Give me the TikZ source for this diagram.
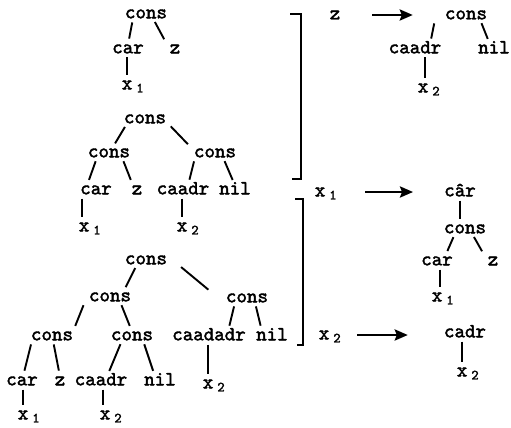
\documentclass[tikz,border=0pt]{standalone}
\usepackage{fontspec}
\usetikzlibrary{arrows.meta}
\newfontfamily\treefont{lmmono10-regular.otf}[FakeBold=2]
\newcommand\xsub[1]{x\kern4pt\textsubscript{#1}}

\begin{document}
\begin{tikzpicture}[x=1pt, y=-1pt, every node/.style={font=\fontsize{20}{24}\selectfont\treefont, inner sep=0pt, text height=8.6pt, text depth=0pt}, branch/.style={line width=1.9pt, shorten <=4pt, shorten >=6pt}, brk/.style={line width=2.5pt}, arr/.style={line width=2.6pt, -{Stealth[length=13pt, width=11pt, inset=2pt]}}]
\useasboundingbox (0,0) rectangle (511,428);

\node (t1cons) at (146,14) {cons};
\node (t1car) at (128,49) {car};
\node (t1z) at (175,49) {z};
\node (t1x) at (133,85) {\xsub{1}};
\draw[branch] ([xshift=-13pt]t1cons.south) -- (t1car.north);
\draw[branch] ([xshift=7pt]t1cons.south) -- ([xshift=-8pt]t1z.north);
\draw[branch] ([xshift=-1pt]t1car.south) -- ([xshift=-6pt]t1x.north);

\node (t2cons) at (145,119) {cons};
\node (t2l) at (109,153) {cons};
\node (t2r) at (215,153) {cons};
\node (t2car) at (96,190) {car};
\node (t2z) at (137,190) {z};
\node (t2caadr) at (183,190) {caadr};
\node (t2nil) at (235,190) {nil};
\node (t2xa) at (90,227) {\xsub{1}};
\node (t2xb) at (188,227) {\xsub{2}};
\draw[branch] ([xshift=-18pt]t2cons.south) -- ([xshift=3pt]t2l.north);
\draw[branch] ([xshift=23pt]t2cons.south) -- ([xshift=-23pt]t2r.north);
\draw[branch] ([xshift=-12pt]t2l.south) -- ([xshift=-9pt]t2car.north);
\draw[branch] ([xshift=13pt]t2l.south) -- ([xshift=-4pt]t2z.north);
\draw[branch] ([xshift=-20pt]t2r.south) -- ([xshift=5pt]t2caadr.north);
\draw[branch] ([xshift=8pt]t2r.south) -- (t2nil.north);
\draw[branch] ([xshift=-14pt]t2car.south) -- ([xshift=-8pt]t2xa.north);
\draw[branch] ([xshift=-1pt]t2caadr.south) -- ([xshift=-6pt]t2xb.north);

\node (t3cons) at (146,260) {cons};
\node (t3l) at (110,297) {cons};
\node (t3r) at (247,298) {cons};
\node (t3ll) at (52,336) {cons};
\node (t3lr) at (132,336) {cons};
\node (t3caadadr) at (209,336) {caadadr};
\node (t3nil) at (272,336) {nil};
\node (t3car) at (22,381) {car};
\node (t3z) at (60,381) {z};
\node (t3caadr) at (101,381) {caadr};
\node (t3nilb) at (160,381) {nil};
\node (t3xc) at (214,384) {\xsub{2}};
\node (t3xa) at (29,415) {\xsub{1}};
\node (t3xb) at (111,415) {\xsub{2}};
\draw[branch] ([xshift=-9pt]t3cons.south) -- ([xshift=13pt]t3l.north);
\draw[branch] ([xshift=32pt]t3cons.south) -- ([xshift=-34pt]t3r.north);
\draw[branch] ([xshift=-25pt]t3l.south) -- ([xshift=21pt]t3ll.north);
\draw[branch] ([xshift=10pt]t3l.south) -- (t3lr.north);
\draw[branch] ([xshift=-20pt]t3ll.south) -- ([xshift=1pt]t3car.north);
\draw[branch] ([xshift=1pt]t3ll.south) -- (t3z.north);
\draw[branch] ([xshift=-10pt]t3lr.south) -- ([xshift=6pt]t3caadr.north);
\draw[branch] ([xshift=11pt]t3lr.south) -- ([xshift=-5pt]t3nilb.north);
\draw[branch] ([xshift=-12pt]t3r.south) -- ([xshift=19pt]t3caadadr.north);
\draw[branch] ([xshift=8pt]t3r.south) -- ([xshift=-10pt]t3nil.north);
\draw[branch] ([xshift=1pt]t3car.south) -- ([xshift=-6pt]t3xa.north);
\draw[branch] ([xshift=2pt]t3caadr.south) -- ([xshift=-8pt]t3xb.north);
\draw[branch] ([xshift=-1pt]t3caadadr.south) -- ([xshift=-6pt]t3xc.north);

% brackets
\draw[brk] (290,14) -- (301,14) -- (301,179) -- (292,179);
\draw[brk] (295,199) -- (303,199) -- (303,345) -- (297,345);

\node (lz) at (335,15) {z};
\node (lxa) at (326,192) {\xsub{1}};
\node (lxb) at (330,335) {\xsub{2}};

\node (rtcons) at (466,15) {cons};
\node (rtcaadr) at (415,49) {caadr};
\node (rtnil) at (494,49) {nil};
\node (rtx) at (429,88) {\xsub{2}};
\draw[branch] ([xshift=-31pt]rtcons.south) -- ([xshift=15pt]rtcaadr.north);
\draw[branch] ([xshift=14pt]rtcons.south) -- ([xshift=-4pt]rtnil.north);
\draw[branch] ([xshift=10pt]rtcaadr.south) -- ([xshift=-4pt]rtx.north);

\node (rmtop) at (460,192) {câr};
\node (rmcons) at (465,229) {cons};
\node (rmcar) at (437,261) {car};
\node (rmz) at (493,261) {z};
\node (rmx) at (443,297) {\xsub{1}};
\draw[branch] (rmtop.south) -- ([xshift=-5pt]rmcons.north);
\draw[branch] ([xshift=-10pt]rmcons.south) -- ([xshift=8pt]rmcar.north);
\draw[branch] ([xshift=7pt]rmcons.south) -- ([xshift=-8pt]rmz.north);
\draw[branch] ([xshift=3pt]rmcar.south) -- ([xshift=-3pt]rmx.north);

\node (rbcadr) at (465,333) {cadr};
\node (rbx) at (468,372) {\xsub{2}};
\draw[branch] ([xshift=-3pt]rbcadr.south) -- ([xshift=-6pt]rbx.north);

\draw[arr, shorten <=32pt, shorten >=32pt] (lz) -- (lz -| rtcons.west);
\draw[arr, shorten <=28pt, shorten >=31pt] (lxa) -- (lxa -| rmtop.west);
\draw[arr, shorten <=16pt, shorten >=36pt] (lxb) -- (lxb -| rbcadr.west);
\end{tikzpicture}
\end{document}
